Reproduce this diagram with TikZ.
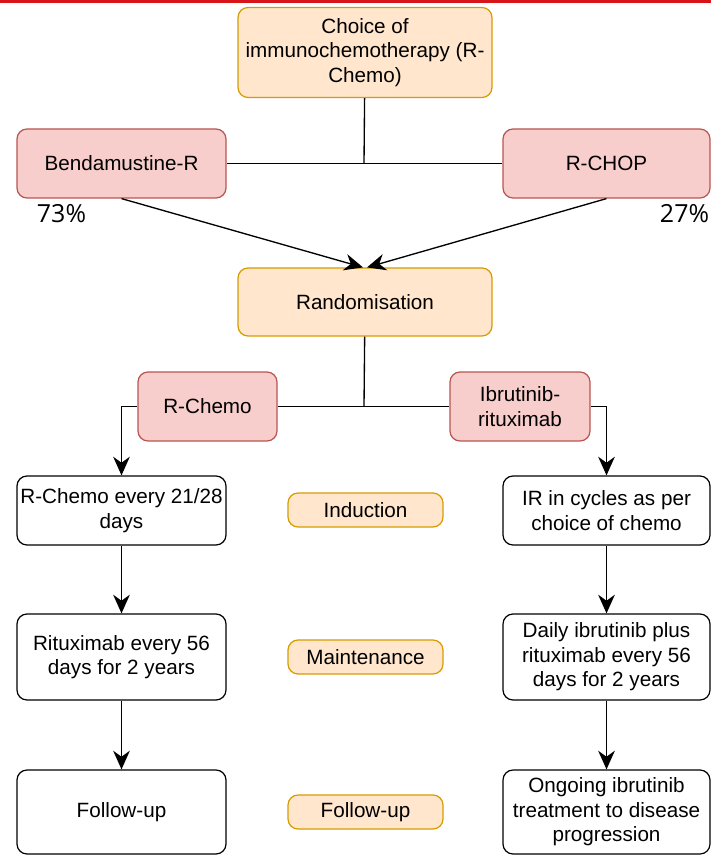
\documentclass[tikz,border=0pt]{standalone}
\usepackage{fontspec}
\setmainfont{Liberation Sans}
\newfontfamily\pctfont{Open Sans}
\usetikzlibrary{arrows.meta, positioning}
\usepackage{xcolor}
\definecolor{PhaseFill}{HTML}{FFE6CC}
\definecolor{PhaseLine}{HTML}{D79B00}
\definecolor{ArmFill}{HTML}{F8CECC}
\definecolor{ArmLine}{HTML}{B85450}
\definecolor{BannerRed}{HTML}{D7141A}
\newcommand{\diagfont}{\fontsize{15.5}{18.4}\selectfont}
\tikzset{
    % Box styles - rounded corners
    phase/.style={
        rectangle,
        rounded corners=7.5pt,
        draw=PhaseLine,
        fill=PhaseFill,
        line width=0.9pt,
        inner sep=0pt,
        align=center,
        font=\diagfont
    },
    arm/.style={
        rectangle,
        rounded corners=7.5pt,
        draw=ArmLine,
        fill=ArmFill,
        line width=0.9pt,
        inner sep=0pt,
        align=center,
        font=\diagfont
    },
    stage/.style={
        rectangle,
        rounded corners=7.5pt,
        draw=black,
        fill=white,
        line width=0.9pt,
        inner sep=0pt,
        align=center,
        font=\diagfont
    },
    pct/.style={
        font=\pctfont\fontsize{18.7}{20}\selectfont
    },
    % Connector styles
    link/.style={
        line width=1pt,
        draw=black
    },
    arrow/.style={
        -{Stealth[length=14pt, width=12.5pt, inset=4.5pt]},
        line width=1pt,
        draw=black
    }
}

\begin{document}
\begin{tikzpicture}[x=0.75pt, y=-0.75pt]
    \useasboundingbox (0,0) rectangle (711,855);
    \fill[BannerRed] (0,0) rectangle (711,3.5);

    % choice of chemo
    \node[phase, minimum width=190.5pt, minimum height=67.5pt] (choice) at (365,52.5) {Choice of\\immunochemotherapy (R-\\Chemo)};
    \node[arm, minimum width=156.75pt, minimum height=51.75pt] (bend) at (121.5,163.5) {Bendamustine-R};
    \node[arm, minimum width=155.25pt, minimum height=51.75pt] (rchop) at (606.5,163.5) {R-CHOP};
    \node[pct] (pctbend) at (61.5,214) {73\%};
    \node[pct] (pctrchop) at (684.5,214) {27\%};

    \coordinate (topjoin) at (364,163.5);
    \draw[link] (choice) -- (topjoin);
    \draw[link] (bend) -- (rchop);

    % randomisation
    \node[phase, minimum width=190.5pt, minimum height=51pt] (rand) at (365,302) {Randomisation};
    \draw[arrow] (bend.south) -- ([xshift=-1.5pt]rand.north);
    \draw[arrow] (rchop.south) -- ([xshift=1.5pt]rand.north);

    \node[arm, minimum width=104.25pt, minimum height=51.75pt] (rchemo) at (207.5,406.5) {R-Chemo};
    \node[arm, minimum width=105pt, minimum height=51.75pt] (ibr) at (520,406.5) {Ibrutinib-\\rituximab};

    \coordinate (midjoin) at (364,406.5);
    \draw[link] (rand) -- (midjoin);
    \draw[link] (rchemo) -- (ibr);

    % treatment phases
    \node[stage, minimum width=156.75pt, minimum height=51.75pt] (indleft) at (121.5,510.5) {R-Chemo every 21/28\\days};
    \node[stage, minimum width=155.25pt, minimum height=51.75pt] (indright) at (606.5,510.5) {IR in cycles as per\\choice of chemo};
    \node[phase, minimum width=116.25pt, minimum height=25.5pt] (induction) at (365.5,510) {Induction};

    \node[stage, minimum width=156.75pt, minimum height=64.5pt] (mainleft) at (121.5,657) {Rituximab every 56\\days for 2 years};
    \node[stage, minimum width=155.25pt, minimum height=64.5pt] (mainright) at (606.5,657) {Daily ibrutinib plus\\rituximab every 56\\days for 2 years};
    \node[phase, minimum width=116.25pt, minimum height=25.5pt] (maintenance) at (365.5,657) {Maintenance};

    \node[stage, minimum width=156.75pt, minimum height=63pt] (folleft) at (121.5,812) {Follow-up};
    \node[stage, minimum width=155.25pt, minimum height=63pt] (folright) at (606.5,812) {Ongoing ibrutinib\\treatment to disease\\progression};
    \node[phase, minimum width=116.25pt, minimum height=25.5pt] (followup) at (365.5,812) {Follow-up};

    \draw[arrow] (rchemo.west) -| (indleft.north);
    \draw[arrow] (ibr.east) -| (indright.north);
    \draw[arrow] (indleft) -- (mainleft);
    \draw[arrow] (mainleft) -- (folleft);
    \draw[arrow] (indright) -- (mainright);
    \draw[arrow] (mainright) -- (folright);
\end{tikzpicture}
\end{document}
